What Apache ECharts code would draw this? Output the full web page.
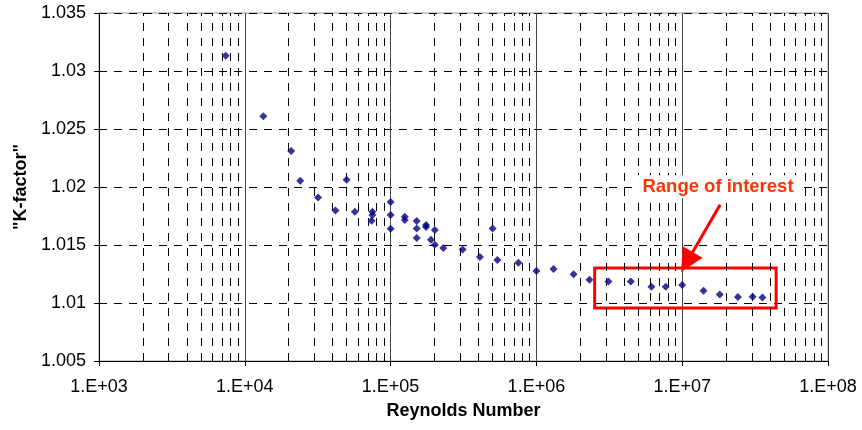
<!DOCTYPE html>
<html>
<head>
<meta charset="utf-8">
<script src="https://cdn.jsdelivr.net/npm/echarts@6/dist/echarts.min.js"></script>
<style>html,body{margin:0;padding:0;background:#fff}#c{width:862px;height:430px}</style>
</head>
<body>
<div id="c"></div>
<script>
// Reynolds number (x) and K-factor (y) readings
var reynolds = [7.4e3, 1.34e4, 2.08e4, 2.4e4, 3.18e4, 4.19e4, 4.99e4, 5.69e4, 7.5e4, 7.5e4, 7.4e4,
  1.0e5, 1.0e5, 1.0e5, 1.25e5, 1.25e5, 1.51e5, 1.51e5, 1.51e5, 1.75e5, 1.75e5, 2.01e5, 1.89e5, 2.01e5,
  2.3e5, 3.12e5, 4.1e5, 5.01e5, 5.4e5, 7.52e5, 1.0e6, 1.31e6, 1.8e6, 2.31e6, 3.12e6, 4.44e6, 6.15e6,
  7.71e6, 1.0e7, 1.4e7, 1.81e7, 2.41e7, 3.04e7, 3.55e7];
var kFactor = [1.03132, 1.02609, 1.0231, 1.02054, 1.0191, 1.01798, 1.02063, 1.01787, 1.01787, 1.01759, 1.0171,
  1.01871, 1.01759, 1.01641, 1.01744, 1.01716, 1.01707, 1.01643, 1.0156, 1.01672, 1.01655, 1.01629, 1.01546, 1.01503,
  1.01474, 1.01462, 1.01397, 1.01643, 1.01371, 1.01347, 1.01276, 1.01293, 1.01247, 1.01201, 1.01186, 1.01186, 1.0114,
  1.0114, 1.01155, 1.01106, 1.01074, 1.01052, 1.01054, 1.01048];
// axis ranges
var xRange = [1e3, 1e8];
var yRange = [1.005, 1.035];
var yStep = 0.005;
// minor (dashed) vertical gridline values
var minorDecades = [1e3, 1e4, 1e5, 1e6, 1e7];
var minorMultipliers = [2, 3, 4, 5, 6, 7, 8, 9];
// annotation: box corners, arrow ends, label anchor
var boxX = [2.51e6, 4.41e7];
var boxY = [1.00957, 1.01302];
var arrowFrom = [1.82e7, 1.01848];
var arrowTo = [1.077e7, 1.01353];
var labelAt = [1.76e7, 1.02003];
var labelText = 'Range of interest';

var FONT = 'Liberation Sans, Arial, sans-serif';
var MINOR_TICK = 0.0005;
var pts = reynolds.map(function (r, i) { return [r, kFactor[i]]; });
var minorLines = [];
var minorTicks = [];
minorDecades.forEach(function (d) {
  minorMultipliers.forEach(function (m) {
    minorLines.push({ xAxis: d * m });
    minorTicks.push([{ coord: [d * m, yRange[0]] }, { coord: [d * m, yRange[0] + MINOR_TICK] }]);
  });
});

var chart = echarts.init(document.getElementById('c'), null, { renderer: 'canvas' });
chart.setOption({
  animation: false,
  backgroundColor: '#fff',
  grid: { left: 99, right: 34, top: 13, bottom: 69, show: true, borderColor: '#999', borderWidth: 1, backgroundColor: 'transparent' },
  xAxis: {
    type: 'log', logBase: 10, min: xRange[0], max: xRange[1],
    name: 'Reynolds Number', nameLocation: 'middle', nameGap: 41,
    nameTextStyle: { fontFamily: FONT, fontSize: 18, fontWeight: 'bold', color: '#000' },
    axisLine: { show: true, onZero: false, lineStyle: { color: '#000', width: 1 } },
    axisTick: { show: true, inside: false, length: 5, lineStyle: { color: '#000' } },
    axisLabel: {
      fontFamily: FONT, fontSize: 18, color: '#000', margin: 17,
      formatter: function (v) { var e = Math.round(Math.log10(v)); return '1.E+' + (e < 10 ? '0' : '') + e; }
    },
    splitLine: { show: true, lineStyle: { color: '#444', width: 1, type: 'solid' } },
    minorTick: { show: false }, minorSplitLine: { show: false }
  },
  yAxis: {
    type: 'value', min: yRange[0], max: yRange[1], interval: yStep,
    name: '"K-factor"', nameLocation: 'middle', nameGap: 68, nameRotate: 90,
    nameTextStyle: { fontFamily: FONT, fontSize: 18, fontWeight: 'bold', color: '#000' },
    axisLine: { show: true, onZero: false, lineStyle: { color: '#000', width: 1 } },
    axisTick: { show: true, inside: false, length: 5, lineStyle: { color: '#000' } },
    axisLabel: {
      fontFamily: FONT, fontSize: 18, color: '#000', margin: 13,
      formatter: function (v) { return String(parseFloat(v.toFixed(3))); }
    },
    splitLine: { show: true, lineStyle: { color: '#000', width: 1, type: [8, 7] } }
  },
  series: [
    {
      type: 'scatter', data: [], silent: true,
      markLine: {
        silent: true, symbol: ['none', 'none'], animation: false,
        label: { show: false },
        lineStyle: { color: '#000', width: 1, type: [8, 7] },
        emphasis: { disabled: true },
        data: minorLines
      }
    },
    {
      type: 'scatter', data: [], silent: true,
      markLine: {
        silent: true, symbol: ['none', 'none'], animation: false,
        label: { show: false },
        lineStyle: { color: '#000', width: 1, type: 'solid' },
        emphasis: { disabled: true },
        data: minorTicks
      }
    },
    {
      type: 'scatter', data: pts, symbol: 'diamond', symbolSize: 8,
      itemStyle: { color: '#000080' }, z: 5
    },
    {
      type: 'scatter', data: [], silent: true, z: 6,
      markArea: {
        silent: true,
        itemStyle: { color: 'rgba(0,0,0,0)', borderColor: '#FF0000', borderWidth: 3 },
        data: [[{ coord: [boxX[0], boxY[1]] }, { coord: [boxX[1], boxY[0]] }]]
      },
      markLine: {
        silent: true, symbol: ['none', 'triangle'], symbolSize: 23,
        label: { show: false },
        lineStyle: { color: '#FF0000', width: 3, type: 'solid' },
        itemStyle: { color: '#FF0000' },
        emphasis: { disabled: true },
        data: [[{ coord: arrowFrom }, { coord: arrowTo }]]
      },
      markPoint: {
        silent: true, symbol: 'circle', symbolSize: 0,
        itemStyle: { color: 'rgba(0,0,0,0)' },
        label: {
          show: true, position: 'inside', formatter: labelText, fontFamily: FONT, fontSize: 18.5, fontWeight: 'bold', color: '#FF3300',
          backgroundColor: '#fff', padding: [2, 6]
        },
        data: [{ coord: labelAt }]
      }
    }
  ]
});
</script>
</body>
</html>
